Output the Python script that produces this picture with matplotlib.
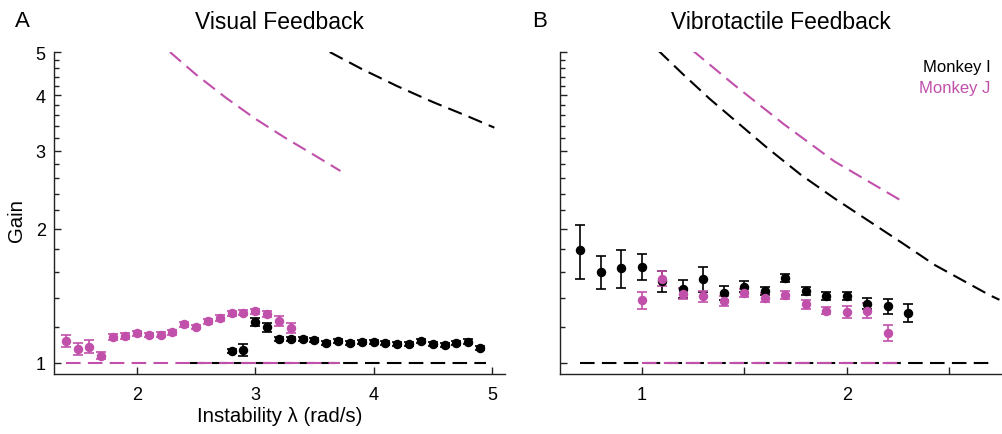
import matplotlib
matplotlib.use("Agg")
import matplotlib.pyplot as plt
from matplotlib.ticker import FixedLocator, NullFormatter, FixedFormatter
import numpy as np

plt.rcParams['font.family'] = ['Liberation Sans', 'DejaVu Sans']

MAG = '#C150AB'
BLK = '#000000'

# ---------------- Panel A: Visual feedback ----------------
visJ_x = [1.4, 1.5, 1.6, 1.7, 1.8, 1.9, 2.0, 2.1, 2.2, 2.3, 2.4, 2.5, 2.6, 2.7,
          2.8, 2.9, 3.0, 3.1, 3.2, 3.3]
visJ_y = [1.121, 1.074, 1.087, 1.037, 1.143, 1.151, 1.165, 1.155, 1.157, 1.171,
          1.219, 1.202, 1.240, 1.260, 1.293, 1.295, 1.304, 1.286, 1.240, 1.196]
visJ_err = [0.035, 0.033, 0.037, 0.018, 0.020, 0.018, 0.014, 0.014, 0.014, 0.014,
            0.017, 0.013, 0.017, 0.017, 0.017, 0.017, 0.017, 0.020, 0.032, 0.029]

visI_x = [2.8, 2.9, 3.0, 3.1, 3.2, 3.3, 3.4, 3.5, 3.6, 3.7, 3.8, 3.9, 4.0, 4.1,
          4.2, 4.3, 4.4, 4.5, 4.6, 4.7, 4.8, 4.9]
visI_y = [1.063, 1.068, 1.234, 1.202, 1.131, 1.131, 1.131, 1.123, 1.108, 1.117,
          1.108, 1.111, 1.111, 1.108, 1.102, 1.102, 1.117, 1.102, 1.098, 1.108,
          1.115, 1.077]
visI_err = [0.012, 0.031, 0.026, 0.027, 0.012, 0.012, 0.012, 0.011, 0.011, 0.011,
            0.011, 0.011, 0.011, 0.011, 0.011, 0.011, 0.012, 0.011, 0.011, 0.012,
            0.013, 0.011]

# theoretical bound curves
visJ_curve_x = [2.28, 2.5, 2.75, 3.0, 3.25, 3.5, 3.72]
visJ_curve_y = [5.00, 4.45, 3.95, 3.54, 3.21, 2.93, 2.70]
visI_curve_x = [3.63, 3.9, 4.2, 4.5, 4.8, 5.02]
visI_curve_y = [5.00, 4.58, 4.19, 3.86, 3.58, 3.38]

visJ_unity_x = [1.4, 3.72]
visI_unity_x = [2.45, 4.95]

# ---------------- Panel B: Vibrotactile feedback ----------------
vibI_x = [0.7, 0.8, 0.9, 1.0, 1.1, 1.2, 1.3, 1.4, 1.5, 1.6, 1.7, 1.8, 1.9, 2.0,
          2.1, 2.2, 2.3]
vibI_y = [1.792, 1.601, 1.635, 1.644, 1.525, 1.468, 1.541, 1.436, 1.483, 1.450,
          1.552, 1.450, 1.410, 1.410, 1.358, 1.339, 1.294]
vibI_err = [0.25, 0.14, 0.16, 0.11, 0.08, 0.07, 0.10, 0.05, 0.04, 0.03, 0.03,
            0.03, 0.03, 0.03, 0.04, 0.05, 0.06]

vibJ_x = [1.0, 1.1, 1.2, 1.3, 1.4, 1.5, 1.6, 1.7, 1.8, 1.9, 2.0, 2.1, 2.2]
vibJ_y = [1.381, 1.546, 1.430, 1.410, 1.377, 1.433, 1.401, 1.423, 1.353, 1.309,
          1.300, 1.310, 1.167]
vibJ_err = [0.06, 0.06, 0.04, 0.04, 0.035, 0.03, 0.03, 0.03, 0.03, 0.025, 0.04,
            0.05, 0.05]

vibI_curve_x = [1.08, 1.2, 1.333, 1.611, 1.775, 1.938, 2.265, 2.43, 2.698, 2.745]
vibI_curve_y = [5.04, 4.46, 3.915, 3.045, 2.649, 2.346, 1.866, 1.658, 1.418, 1.385]
vibJ_curve_x = [1.248, 1.447, 1.693, 1.938, 2.272]
vibJ_curve_y = [5.04, 4.23, 3.44, 2.84, 2.306]

vibI_unity_x = [0.7, 2.71]
vibJ_unity_x = [1.0, 2.26]

y_major = [1, 2, 3, 4, 5]
y_minor = [v for v in np.round(np.arange(1.2, 5.0, 0.2), 1) if v not in y_major]

fig = plt.figure(figsize=(10.03, 4.35), dpi=100)
axA = fig.add_axes([0.0538, 0.138, 0.4497, 0.740])
axB = fig.add_axes([0.5583, 0.138, 0.4402, 0.740])

DASH = (0, (7, 3.5))
LW = 1.5


def style(ax, xlim, xticks, xticklabels, ylabels=True):
    ax.set_yscale('log')
    ax.set_ylim(0.943, 5.0)
    ax.set_xlim(*xlim)
    ax.yaxis.set_major_locator(FixedLocator(y_major))
    ax.yaxis.set_minor_locator(FixedLocator(y_minor))
    ax.yaxis.set_minor_formatter(NullFormatter())
    if ylabels:
        ax.yaxis.set_major_formatter(FixedFormatter([str(v) for v in y_major]))
    else:
        ax.yaxis.set_major_formatter(NullFormatter())
    ax.set_xticks(xticks)
    ax.set_xticklabels(xticklabels)
    for s in ['top', 'right']:
        ax.spines[s].set_visible(False)
    for s in ['left', 'bottom']:
        ax.spines[s].set_linewidth(1.0)
        ax.spines[s].set_color('#222222')
    ax.tick_params(which='major', direction='in', length=5, width=1.0,
                   labelsize=13, color='#222222')
    ax.tick_params(axis='x', which='major', pad=9)
    ax.tick_params(axis='y', which='major', pad=6)
    ax.tick_params(which='minor', direction='in', length=3.5, width=1.0,
                   color='#222222')


ekw = dict(fmt='o', markersize=5.8, capsize=3.3, elinewidth=1.2, capthick=1.2)

# Panel A
axA.plot(visI_unity_x, [1, 1], color=BLK, lw=LW, linestyle=DASH)
axA.plot(visJ_unity_x, [1, 1], color=MAG, lw=LW, linestyle=DASH)
axA.plot(visI_curve_x, visI_curve_y, color=BLK, lw=LW, linestyle=DASH)
axA.plot(visJ_curve_x, visJ_curve_y, color=MAG, lw=LW, linestyle=DASH)
axA.errorbar(visI_x, visI_y, yerr=visI_err, color=BLK, ecolor=BLK,
             markeredgecolor=BLK, **ekw)
axA.errorbar(visJ_x, visJ_y, yerr=visJ_err, color=MAG, ecolor=MAG,
             markeredgecolor=MAG, **ekw)
style(axA, (1.3, 5.11), [2, 3, 4, 5], ['2', '3', '4', '5'])
axA.set_xlabel('Instability λ (rad/s)', fontsize=14.7, labelpad=2)
axA.set_ylabel('Gain', fontsize=14.7)
axA.yaxis.set_label_coords(-0.062, 0.48)
axA.set_title('Visual Feedback', fontsize=16.5, pad=17)

# Panel B
axB.plot(vibI_unity_x, [1, 1], color=BLK, lw=LW, linestyle=DASH)
axB.plot(vibJ_unity_x, [1, 1], color=MAG, lw=LW, linestyle=DASH)
axB.plot(vibI_curve_x, vibI_curve_y, color=BLK, lw=LW, linestyle=DASH)
axB.plot(vibJ_curve_x, vibJ_curve_y, color=MAG, lw=LW, linestyle=DASH)
axB.errorbar(vibI_x, vibI_y, yerr=vibI_err, color=BLK, ecolor=BLK,
             markeredgecolor=BLK, **ekw)
axB.errorbar(vibJ_x, vibJ_y, yerr=vibJ_err, color=MAG, ecolor=MAG,
             markeredgecolor=MAG, **ekw)
style(axB, (0.6, 2.755), [1, 1.5, 2, 2.5], ['1', '', '2', ''], ylabels=False)
axB.set_title('Vibrotactile Feedback', fontsize=16.5, pad=17)

axB.text(0.975, 0.955, 'Monkey I', color=BLK, fontsize=12, ha='right', va='center',
         transform=axB.transAxes)
axB.text(0.975, 0.89, 'Monkey J', color=MAG, fontsize=12, ha='right', va='center',
         transform=axB.transAxes)

fig.text(0.022, 0.95, 'A', fontsize=16, ha='center', va='center')
fig.text(0.538, 0.95, 'B', fontsize=16, ha='center', va='center')

fig.savefig('out.png', dpi=100)
